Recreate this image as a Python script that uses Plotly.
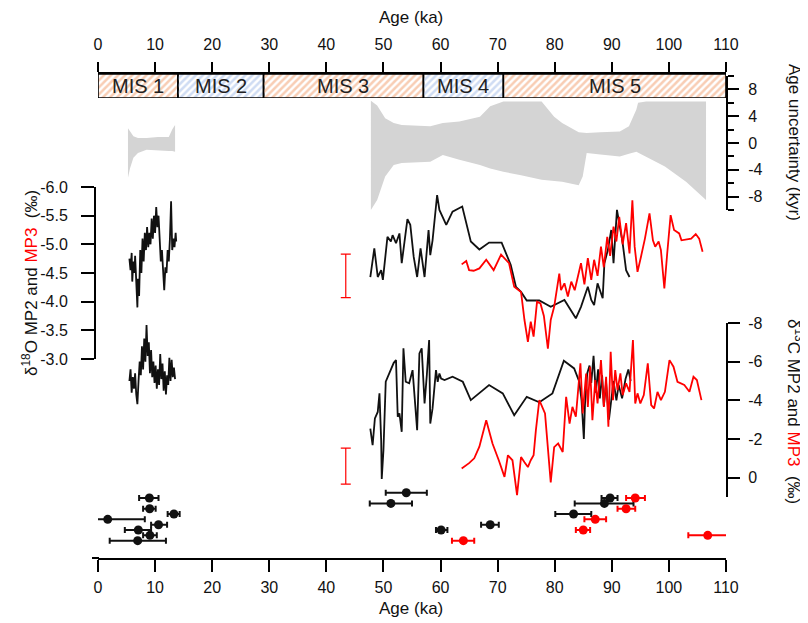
import plotly.graph_objects as go

# the page body margin places the figure at (8, 8) inside the 808x623 window
PAGE_OFFSET = 8
W, H = 808 - PAGE_OFFSET, 623 - PAGE_OFFSET

# ---------------- data ----------------
AGE_TICKS = [0, 10, 20, 30, 40, 50, 60, 70, 80, 90, 100, 110]
AGE_TICK_TEXT = ["0", "10", "20", "30", "40", "50", "60", "70", "80", "90", "100", "110"]

MIS_NAMES = ["MIS 1", "MIS 2", "MIS 3", "MIS 4", "MIS 5"]
MIS_BOUNDS = [0, 14, 29, 57, 71, 110]
MIS_WARM = [True, False, True, False, True]

UNC_TICKS = [-8, -4, 0, 4, 8]
UNC_TICK_TEXT = ["-8", "-4", "0", "4", "8"]
UNC_MINOR = [-10, -6, -2, 2, 6, 10]

D18O_TICKS = [-6.0, -5.5, -5.0, -4.5, -4.0, -3.5, -3.0]
D18O_TICK_TEXT = ["-6.0", "-5.5", "-5.0", "-4.5", "-4.0", "-3.5", "-3.0"]
D13C_TICKS = [-8, -6, -4, -2, 0]
D13C_TICK_TEXT = ["-8", "-6", "-4", "-2", "0"]

# age uncertainty envelopes (age ka, upper kyr, lower kyr)
UNC1_AGE = [5.25, 5.6, 6.2, 7.0, 8.5, 10.5, 12.4, 13.0, 13.5]
UNC1_UP = [2.2, 1.8, 1.0, 0.75, 0.75, 0.9, 0.9, 2.0, 2.7]
UNC1_LO = [-5.2, -3.8, -2.2, -1.5, -1.0, -1.1, -1.2, -1.2, -1.3]

UNC2_AGE = [47.8, 48.9, 50.3, 51.8, 53.2, 56.0, 58.2, 60.4, 63.3, 66.9, 68.7, 71.0, 74.1,
            77.7, 79.9, 81.3, 84.2, 84.9, 85.6, 88.0, 91.4, 93.0, 94.3, 94.6, 96.0, 99.3,
            103.0, 106.5]
UNC2_UP = [6.3, 5.6, 3.7, 3.0, 2.7, 2.6, 2.5, 3.0, 3.2, 3.9, 5.5, 6.2, 6.2,
           6.2, 3.9, 3.0, 1.6, 1.5, 1.5, 1.6, 1.7, 2.5, 5.0, 6.0, 6.2, 6.2,
           6.2, 6.2]
UNC2_LO = [-10.0, -8.5, -5.0, -3.3, -3.0, -2.9, -2.8, -1.8, -2.5, -3.3, -3.8, -4.3, -4.8,
           -5.5, -5.7, -5.8, -6.3, -5.0, -1.5, -1.7, -2.0, -1.6, -1.3, -1.4, -2.0, -3.5,
           -5.8, -8.5]

# MP2 d18O (age ka, permil)
MP2_D18O_A = [(5.5, -4.75), (5.7, -4.55), (5.9, -4.85), (6.0, -4.35), (6.2, -4.7), (6.4, -4.5),
              (6.5, -4.8), (6.7, -4.2), (6.9, -3.9), (7.0, -4.4), (7.2, -4.1), (7.4, -4.9),
              (7.6, -4.5), (7.8, -5.1), (8.0, -4.7), (8.2, -5.2), (8.4, -4.9), (8.6, -5.3),
              (8.8, -4.95), (9.0, -5.2), (9.2, -5.0), (9.4, -5.45), (9.6, -5.1), (9.8, -5.5),
              (10.0, -5.2), (10.2, -5.65), (10.4, -5.3), (10.6, -5.5), (10.8, -5.0), (11.0, -4.7),
              (11.2, -4.9), (11.4, -4.4), (11.6, -4.2), (11.8, -4.6), (12.0, -4.5), (12.2, -4.9),
              (12.4, -4.7), (12.6, -5.1), (12.8, -5.75), (13.0, -4.9), (13.2, -5.1), (13.4, -4.95),
              (13.6, -5.2), (13.7, -5.05)]
MP2_D18O_B = [(47.7, -4.43), (48.4, -4.93), (49.0, -4.43), (49.6, -4.55), (49.9, -4.38),
              (50.7, -5.13), (51.3, -5.05), (51.6, -5.16), (52.2, -5.02), (52.8, -5.19),
              (53.2, -4.67), (53.7, -5.07), (54.2, -5.44), (54.7, -5.34), (55.3, -4.78),
              (55.9, -4.43), (56.5, -4.93), (57.2, -4.43), (57.9, -5.25), (58.2, -4.81),
              (58.6, -5.07), (59.4, -5.86), (59.8, -5.6), (61.0, -5.34), (62.1, -5.57),
              (63.8, -5.66), (65.3, -5.05), (66.8, -4.91), (68.5, -5.03), (70.7, -5.03),
              (72.3, -4.64), (73.2, -4.26), (74.1, -4.17), (75.1, -4.02), (77.3, -4.02),
              (79.3, -3.91), (81.7, -4.03), (83.7, -3.71), (84.6, -3.91), (85.8, -4.26),
              (86.4, -4.03), (86.9, -3.94), (87.5, -4.32), (88.4, -4.06), (88.7, -4.67),
              (89.3, -4.9), (89.9, -5.25), (90.3, -4.67), (90.9, -5.6), (91.3, -5.37),
              (91.9, -5.02), (92.5, -4.55), (93.1, -4.43)]
MP3_D18O = [(63.7, -4.65), (64.5, -4.71), (65.0, -4.55), (65.8, -4.54), (66.8, -4.58), (68.0, -4.73),
            (69.3, -4.55), (70.6, -4.82), (72.0, -4.67), (72.9, -4.26), (74.1, -4.17), (74.7, -3.68),
            (75.3, -3.3), (75.8, -3.65), (76.3, -3.39), (76.9, -4.0), (77.5, -3.97), (78.1, -3.75),
            (78.8, -3.18), (79.3, -3.68), (79.9, -3.91), (80.8, -4.49), (81.1, -4.2), (81.7, -4.32),
            (82.3, -4.09), (82.9, -4.35), (83.5, -4.2), (84.1, -4.43), (84.6, -4.67), (85.2, -4.3),
            (85.8, -4.76), (86.4, -4.38), (86.9, -4.73), (87.5, -4.45), (88.1, -4.96), (88.6, -4.6),
            (89.2, -5.13), (89.7, -4.8), (90.3, -5.31), (90.8, -5.05), (91.3, -5.48), (91.9, -5.0),
            (92.5, -5.37), (93.1, -4.84), (93.6, -5.77), (94.0, -4.96), (94.5, -4.52), (95.1, -4.78),
            (95.8, -5.1), (96.6, -5.54), (97.2, -5.07), (97.6, -4.96), (98.2, -5.05), (98.6, -4.9),
            (99.2, -4.23), (99.7, -4.84), (100.3, -5.51), (100.9, -5.25), (101.8, -5.19), (102.2, -5.07),
            (103.0, -5.09), (103.9, -5.1), (104.7, -5.18), (105.3, -5.1), (105.9, -4.87)]

# d13C (age ka, permil)
MP2_D13C_A = [(5.5, -5.0), (5.7, -5.6), (5.9, -4.4), (6.1, -5.2), (6.3, -4.6), (6.5, -5.4),
              (6.7, -4.3), (6.9, -3.8), (7.1, -5.0), (7.3, -6.0), (7.5, -5.3), (7.7, -6.8),
              (7.9, -5.6), (8.1, -7.2), (8.3, -6.0), (8.5, -7.9), (8.7, -6.3), (8.9, -7.0),
              (9.1, -5.4), (9.3, -6.6), (9.5, -5.2), (9.7, -6.0), (9.9, -4.9), (10.1, -5.8),
              (10.3, -4.6), (10.5, -5.6), (10.7, -4.8), (10.9, -6.4), (11.1, -5.1), (11.3, -5.9),
              (11.5, -4.5), (11.7, -5.5), (11.9, -4.3), (12.1, -5.3), (12.3, -4.8), (12.5, -6.2),
              (12.7, -5.0), (12.9, -6.1), (13.1, -5.2), (13.3, -5.7), (13.5, -5.1)]
MP2_D13C_B = [(47.7, -2.54), (48.1, -1.68), (48.5, -3.06), (49.0, -3.4), (49.3, -4.36), (49.6, -1.94),
              (49.7, 0.07), (50.0, -1.42), (50.4, -4.96), (51.2, -5.56), (51.8, -5.94), (52.2, -6.08),
              (52.5, -3.15), (52.8, -3.32), (53.2, -2.37), (53.5, -6.69), (53.9, -4.96), (54.5, -4.88),
              (55.1, -5.56), (55.9, -2.46), (56.3, -6.43), (56.7, -6.69), (57.2, -3.84), (57.6, -5.31),
              (58.0, -7.12), (58.2, -2.8), (58.6, -3.58), (59.2, -5.56), (59.5, -4.96), (59.8, -5.39),
              (60.1, -5.13), (60.7, -5.05), (62.1, -5.22), (63.9, -4.96), (65.3, -4.01), (68.5, -4.79),
              (70.9, -4.36), (72.9, -3.23), (75.1, -4.18), (77.3, -3.9), (79.6, -4.36), (81.6, -6.05),
              (83.4, -5.65), (84.3, -4.96), (84.7, -4.0), (85.1, -2.0), (85.3, -3.8), (85.7, -5.4),
              (86.1, -5.8), (86.4, -4.9), (86.8, -6.3), (87.2, -4.4), (87.6, -5.6), (87.9, -4.1),
              (88.3, -5.3), (88.6, -3.7), (89.0, -4.9), (89.5, -3.0), (89.9, -4.2), (90.3, -5.0),
              (90.8, -4.0), (91.2, -4.8), (91.8, -4.1), (92.4, -5.1), (92.9, -5.6), (93.3, -5.0)]
MP3_D13C = [(63.7, -0.47), (65.0, -0.75), (65.9, -1.0), (66.8, -1.6), (68.0, -2.97), (69.1, -1.77),
            (70.2, -0.9), (71.2, -0.04), (71.8, -1.16), (72.6, -0.9), (73.4, 0.9), (74.1, -1.07),
            (74.7, -0.8), (75.3, -0.55), (75.8, -0.9), (76.3, -1.16), (76.7, -2.46), (77.3, -4.01),
            (78.3, -3.32), (79.3, 0.24), (79.9, -1.58), (80.6, -1.77), (81.4, -1.33), (82.0, -4.18),
            (82.6, -2.8), (83.1, -3.66), (83.7, -3.15), (84.5, -5.91), (84.9, -3.32), (85.5, -5.39),
            (85.8, -3.66), (86.2, -5.74), (86.6, -2.97), (87.1, -5.05), (87.5, -3.84), (88.1, -6.08),
            (88.6, -3.66), (89.0, -5.22), (89.4, -2.63), (89.8, -6.51), (90.2, -4.01), (90.6, -5.56),
            (91.0, -4.53), (91.5, -5.39), (91.9, -4.27), (92.5, -4.88), (93.1, -4.44), (93.7, -7.12),
            (94.1, -3.84), (94.5, -4.36), (95.0, -3.84), (95.6, -4.27), (96.3, -5.91), (96.9, -3.75),
            (97.4, -3.58), (98.0, -4.44), (98.6, -4.01), (99.3, -4.44), (100.1, -6.08), (100.8, -5.74),
            (101.5, -4.96), (102.7, -4.79), (103.6, -4.44), (104.3, -5.22), (104.9, -5.05), (105.7, -4.01)]

# analytical/offset error bars (age, centre, half-width)
ERR_D18O = (43.4, -4.45, 0.38)
ERR_D13C = (43.4, -0.6, 0.93)

# U-Th dates: (age ka, minus err, plus err, row)
MP2_DATES = [(9.0, 1.8, 1.6, 1), (9.05, 1.15, 1.05, 3), (13.3, 1.1, 1.0, 4), (1.7, 1.9, 6.5, 5),
             (10.6, 1.3, 1.5, 6), (7.06, 2.36, 2.24, 7), (9.1, 1.2, 1.2, 8), (6.95, 4.9, 4.95, 9),
             (54.0, 3.6, 3.6, 0), (51.3, 3.7, 3.7, 2), (60.1, 0.9, 1.1, 7), (68.7, 1.6, 1.5, 6),
             (89.7, 1.5, 1.3, 1), (88.7, 5.2, 5.1, 2), (83.3, 3.2, 3.1, 4)]
MP3_DATES = [(94.1, 1.6, 1.7, 1), (92.5, 1.5, 1.6, 3), (87.1, 1.9, 1.9, 5), (85.0, 1.3, 1.2, 7),
             (64.0, 2.0, 1.9, 9), (106.8, 3.4, 3.4, 8)]

# ---------------- styling ----------------
FONT = "Liberation Sans, Arial, sans-serif"
INK = "#111111"
RED = "#ff0000"
GRAY = "#d4d4d4"
WARM_BG, WARM_FG = "#f8cdb4", "#e57a45"
COLD_BG, COLD_FG = "#cfdcf3", "#6a8ed3"


def fx(px):
    return (px - PAGE_OFFSET) / W


def fy(py):
    return 1 - (py - PAGE_OFFSET) / H


def unzip(pairs):
    return [p[0] for p in pairs], [p[1] for p in pairs]


fig = go.Figure()

# MIS bar
starts = MIS_BOUNDS[:-1]
widths = [b - a for a, b in zip(MIS_BOUNDS[:-1], MIS_BOUNDS[1:])]
bgs = [WARM_BG if w else COLD_BG for w in MIS_WARM]
fgs = [WARM_FG if w else COLD_FG for w in MIS_WARM]
fig.add_trace(go.Bar(
    x=widths, base=starts, y=[0.5] * len(widths), orientation="h", width=1,
    marker=dict(color=bgs, line=dict(color="black", width=1.6),
                pattern=dict(shape="/", fgcolor=fgs, bgcolor=bgs, size=5, solidity=0.5)),
    xaxis="x", yaxis="y", showlegend=False, hoverinfo="skip"))

# uncertainty envelopes
for ages, up, lo in [(UNC1_AGE, UNC1_UP, UNC1_LO), (UNC2_AGE, UNC2_UP, UNC2_LO)]:
    fig.add_trace(go.Scatter(
        x=ages + ages[::-1], y=up + lo[::-1], fill="toself", fillcolor=GRAY,
        line=dict(width=0, color=GRAY), mode="lines",
        xaxis="x", yaxis="y2", showlegend=False, hoverinfo="skip"))

# d18O
for pairs, col in [(MP2_D18O_A, INK), (MP2_D18O_B, INK), (MP3_D18O, RED)]:
    a, v = unzip(pairs)
    fig.add_trace(go.Scatter(x=a, y=v, mode="lines", line=dict(color=col, width=1.8),
                             xaxis="x", yaxis="y3", showlegend=False))
# d13C
for pairs, col in [(MP2_D13C_A, INK), (MP2_D13C_B, INK), (MP3_D13C, RED)]:
    a, v = unzip(pairs)
    fig.add_trace(go.Scatter(x=a, y=v, mode="lines", line=dict(color=col, width=1.8),
                             xaxis="x", yaxis="y4", showlegend=False))

# error bars
for (ax, cy, err), yax in [(ERR_D18O, "y3"), (ERR_D13C, "y4")]:
    fig.add_trace(go.Scatter(
        x=[ax], y=[cy], mode="markers", marker=dict(size=1, color=RED, opacity=0),
        error_y=dict(type="data", array=[err], color=RED, thickness=1.2, width=5),
        xaxis="x", yaxis=yax, showlegend=False, hoverinfo="skip"))

# dates
for dates, col in [(MP2_DATES, INK), (MP3_DATES, RED)]:
    fig.add_trace(go.Scatter(
        x=[d[0] for d in dates], y=[d[3] for d in dates], mode="markers",
        marker=dict(size=9, color=col),
        error_x=dict(type="data", symmetric=False, array=[d[2] for d in dates],
                     arrayminus=[d[1] for d in dates], color=col, thickness=2, width=3),
        xaxis="x2", yaxis="y5", showlegend=False))

tickfont = dict(family=FONT, size=16, color=INK)
XDOM = [fx(98), fx(726)]
common_axis = dict(showgrid=False, zeroline=False, showline=True, linecolor="black",
                   ticks="outside", tickcolor="black", tickfont=tickfont, automargin=False)

fig.update_layout(
    template="none",
    width=W, height=H, margin=dict(l=0, r=0, t=0, b=0, pad=0, autoexpand=False),
    paper_bgcolor="white", plot_bgcolor="rgba(0,0,0,0)",
    font=dict(family=FONT, size=16, color=INK),
    xaxis=dict(domain=XDOM, range=[0, 110], anchor="y", side="top",
               tickvals=AGE_TICKS, ticktext=AGE_TICK_TEXT, ticklen=10, tickwidth=1.6,
               linewidth=1.6, ticklabelstandoff=6, **common_axis),
    yaxis=dict(domain=[fy(98), fy(74)], range=[0, 1], visible=False, automargin=False),
    yaxis2=dict(domain=[fy(210), fy(76)], range=[-10, 10], anchor="free", position=fx(727),
                side="right", tickvals=UNC_TICKS, ticktext=UNC_TICK_TEXT, ticklen=11,
                tickwidth=1.6, linewidth=2, ticklabelstandoff=6,
                minor=dict(tickmode="array", tickvals=UNC_MINOR, ticks="outside", ticklen=6,
                           tickwidth=1.6, tickcolor="black"),
                **common_axis),
    yaxis3=dict(domain=[fy(359), fy(187)], range=[-3.0, -6.0], anchor="free", position=fx(95),
                side="left", tickvals=D18O_TICKS, ticktext=D18O_TICK_TEXT, ticklen=13,
                tickwidth=1.6, linewidth=2, ticklabelstandoff=10, **common_axis),
    yaxis4=dict(domain=[fy(497), fy(323)], range=[1.0, -8.0], anchor="free", position=fx(727),
                side="right", tickvals=D13C_TICKS, ticktext=D13C_TICK_TEXT, ticklen=12,
                tickwidth=1.6, linewidth=2, ticklabelstandoff=5, **common_axis),
    yaxis5=dict(domain=[fy(558), fy(481)], range=[12.25, -2.2], visible=False, automargin=False),
    xaxis2=dict(domain=XDOM, range=[0, 110], anchor="y5", side="bottom",
                tickvals=AGE_TICKS, ticktext=AGE_TICK_TEXT, ticklen=12, tickwidth=1.6,
                linewidth=2, ticklabelstandoff=2, **common_axis),
)

# short extension of bottom axis line left of 0
fig.add_shape(type="line", xref="paper", yref="paper", x0=fx(92), x1=fx(99),
              y0=fy(558), y1=fy(558), line=dict(color="black", width=2))

ann = []
for name, a, b in zip(MIS_NAMES, MIS_BOUNDS[:-1], MIS_BOUNDS[1:]):
    ann.append(dict(x=(a + b) / 2, y=0.5, xref="x", yref="y", text=name, showarrow=False,
                    xanchor="center", yanchor="middle",
                    font=dict(family=FONT, size=20, color="#222222")))
title_font = dict(family=FONT, size=17, color=INK)
center = dict(xref="paper", yref="paper", showarrow=False, xanchor="center", yanchor="middle",
              font=title_font)
ann += [
    dict(x=fx(411), y=fy(18), text="Age (ka)", **center),
    dict(x=fx(411), y=fy(608), text="Age (ka)", **center),
    dict(x=fx(795), y=fy(142), text="Age uncertainty (kyr)", textangle=90, **center),
    dict(x=fx(795), y=fy(411),
         text="δ<sup>13</sup>C MP2 and <span style='color:#ff0000'>MP3</span>  (‰)",
         textangle=90, **center),
    dict(x=fx(30), y=fy(283),
         text="δ<sup>18</sup>O MP2 and <span style='color:#ff0000'>MP3</span>  (‰)",
         textangle=-90, **center),
]
fig.update_layout(annotations=ann)

fig.write_html("out.html")
